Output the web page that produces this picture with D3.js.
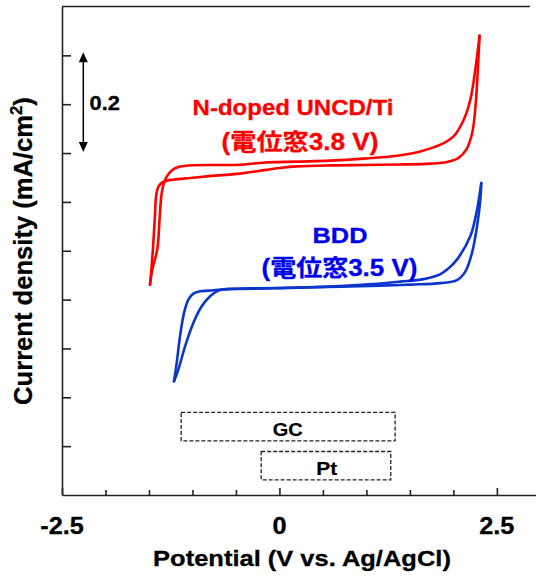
<!DOCTYPE html>
<html><head><meta charset="utf-8">
<script src="https://cdn.jsdelivr.net/npm/d3@7"></script>
<style>body{margin:0;background:#fff}svg{display:block}</style>
</head><body>
<svg id="c" width="536" height="576"></svg>
<script>
// ---------- data ----------
const xTicks = [-2.5, -2, -1.5, -1, -0.5, 0, 0.5, 1, 1.5, 2, 2.5];
const xMajor = [-2.5, 0, 2.5];
const xTickLabels = ["-2.5", "0", "2.5"];
const yTicks = [0.1, 0.2, 0.3, 0.4, 0.5, 0.6, 0.7, 0.8, 0.9];

// N-doped UNCD/Ti : [potential V, current (offset) mA/cm2]
const ncdForward = [[-1.488,0.4307],[-1.462,0.4614],[-1.405,0.5023],[-1.376,0.5704],[-1.356,0.6148],[-1.330,0.6373],[-1.294,0.6523],[-1.238,0.6645],[-1.162,0.6715],[-1.028,0.6748],[-0.740,0.6756],[-0.452,0.6762],[-0.188,0.6803],[0.192,0.6824],[0.583,0.6844],[0.963,0.6885],[1.354,0.6946],[1.619,0.7034],[1.852,0.7171],[1.999,0.7335],[2.114,0.7662],[2.195,0.8092],[2.252,0.8705],[2.301,0.9401]];
const ncdReverse = [[2.301,0.9401],[2.281,0.8705],[2.258,0.8036],[2.217,0.7417],[2.148,0.7069],[2.056,0.6895],[1.929,0.6817],[1.734,0.6783],[1.389,0.6766],[0.963,0.6756],[0.583,0.6748],[0.204,0.6727],[0.008,0.6695],[-0.222,0.6639],[-0.452,0.6578],[-0.835,0.6523],[-1.028,0.6490],[-1.220,0.6455],[-1.290,0.6436],[-1.350,0.6395],[-1.392,0.6310],[-1.416,0.6150],[-1.432,0.5704],[-1.455,0.5023],[-1.475,0.4558],[-1.488,0.4307]];
// BDD
const bddForward = [[-1.212,0.2328],[-1.181,0.2705],[-1.143,0.3249],[-1.097,0.3728],[-1.047,0.4000],[-0.990,0.4123],[-0.913,0.4170],[-0.759,0.4190],[-0.605,0.4215],[-0.337,0.4229],[0.008,0.4239],[0.698,0.4266],[1.159,0.4286],[1.504,0.4307],[1.852,0.4338],[2.041,0.4399],[2.137,0.4573],[2.214,0.4956],[2.272,0.5500],[2.310,0.6046],[2.321,0.6388]];
const bddReverse = [[2.321,0.6388],[2.272,0.5841],[2.194,0.5295],[2.041,0.4818],[1.941,0.4634],[1.852,0.4522],[1.657,0.4419],[1.389,0.4368],[1.078,0.4317],[0.698,0.4276],[0.008,0.4235],[-0.452,0.4219],[-0.605,0.4215],[-0.702,0.4184],[-0.797,0.4068],[-0.893,0.3863],[-0.990,0.3523],[-1.085,0.3044],[-1.162,0.2568],[-1.212,0.2328]];

// potential windows of other electrodes
const windowNames = ["GC", "Pt"];
const windowFrom = [-1.13, -0.21];
const windowTo = [1.33, 1.28];
const windowTop = [0.169, 0.089];
const windowBottom = [0.111, 0.031];

const scaleBar = [0.9, 0.7]; // 0.2 mA/cm2
const scaleBarX = -2.255;

// ---------- drawing ----------
const svg = d3.select("#c");
const FONT = "'Liberation Sans', Arial, 'Noto Sans CJK JP', sans-serif";
const x = d3.scaleLinear().domain([-2.5, 2.95]).range([62, 536]);
const y = d3.scaleLinear().domain([0, 1]).range([495, 6.5]);
const AX = "#222";

// frame top
svg.append("line").attr("x1", x(-2.5)).attr("x2", 530).attr("y1", y(1)).attr("y2", y(1))
  .attr("stroke", AX).attr("stroke-width", 1.6);

const gx = svg.append("g").attr("transform", `translate(0,${y(0)})`)
  .call(d3.axisBottom(x).tickValues(xTicks.filter(v => !xMajor.includes(v))).tickSize(-5).tickSizeOuter(0).tickFormat(""));
const gx2 = svg.append("g").attr("transform", `translate(0,${y(0)})`)
  .call(d3.axisBottom(x).tickValues(xMajor).tickSize(-7).tickSizeOuter(0).tickFormat(""));
gx2.select(".domain").remove();
const gy = svg.append("g").attr("transform", `translate(${x(-2.5)},0)`)
  .call(d3.axisLeft(y).tickValues(yTicks).tickSize(-9).tickSizeOuter(0).tickFormat(""));
[gx, gx2, gy].forEach(g => {
  g.selectAll("path,line").attr("stroke", AX).attr("stroke-width", 1.6);
});

function stretchedText(px, py, str, size, opts = {}) {
  const t = svg.append("text").attr("font-family", FONT).attr("font-weight", "bold")
    .attr("font-size", size).attr("fill", opts.fill || "#000")
    .attr("text-anchor", opts.anchor || "middle").text(str);
  if (opts.stroke) t.attr("stroke", opts.fill || "#000").attr("stroke-width", opts.stroke);
  let sx = opts.sx || 1;
  if (opts.width) { sx = opts.width / t.node().getComputedTextLength(); }
  t.attr("transform", `translate(${px},${py}) scale(${sx},1)`);
  return t;
}

// x tick labels
xMajor.forEach((v, i) => stretchedText(x(v), 534, xTickLabels[i], 23, { sx: 1.1, stroke: 0.3 }));
// x title
stretchedText(302, 566, "Potential (V vs. Ag/AgCl)", 22, { width: 298, stroke: 0.3 });

// y title
const yl = svg.append("text").attr("font-family", FONT).attr("font-weight", "bold")
  .attr("font-size", 26).attr("text-anchor", "middle").attr("stroke", "#000").attr("stroke-width", 0.3);
yl.append("tspan").text("Current density (mA/cm");
yl.append("tspan").attr("font-size", 17).attr("dy", -10).text("2");
yl.append("tspan").attr("dy", 10).text(")");
const ylen = yl.node().getComputedTextLength();
yl.attr("transform", `translate(32,251) rotate(-90) scale(${308 / ylen},1)`);

// scale bar arrow
const ax = x(scaleBarX);
const a0 = y(scaleBar[0]) - 3, a1 = y(scaleBar[1]) - 1;
svg.append("line").attr("x1", ax).attr("x2", ax).attr("y1", a0 + 8).attr("y2", a1 - 8)
  .attr("stroke", "#000").attr("stroke-width", 1.5);
svg.append("path").attr("d", `M${ax},${a0} L${ax - 4.5},${a0 + 10} L${ax + 4.5},${a0 + 10} Z`).attr("fill", "#000");
svg.append("path").attr("d", `M${ax},${a1} L${ax - 4.5},${a1 - 10} L${ax + 4.5},${a1 - 10} Z`).attr("fill", "#000");
stretchedText(89.5, 110, "0.2", 19.5, { anchor: "start", sx: 1.12, stroke: 0.3 });

// CV curves
const line = d3.line().x(d => x(d[0])).y(d => y(d[1])).curve(d3.curveCatmullRom.alpha(0.5));
const curves = [
  { data: ncdForward, color: "#ff0000" }, { data: ncdReverse, color: "#ff0000" },
  { data: bddForward, color: "#0a36cc" }, { data: bddReverse, color: "#0a36cc" }
];
curves.forEach(c => {
  svg.append("path").attr("d", line(c.data)).attr("fill", "none")
    .attr("stroke", c.color).attr("stroke-width", 2.6)
    .attr("stroke-linecap", "round").attr("stroke-linejoin", "round");
});

// labels
stretchedText(293, 115, "N-doped UNCD/Ti", 22.5, { fill: "#ff0000", width: 201, stroke: 0.3 });
stretchedText(300, 150, "(電位窓3.8 V)", 23, { fill: "#ff0000", width: 157, stroke: 0.3 });
stretchedText(340, 243, "BDD", 23, { fill: "#0000ee", width: 55, stroke: 0.3 });
stretchedText(339.5, 276, "(電位窓3.5 V)", 23, { fill: "#0000ee", width: 156, stroke: 0.3 });

// potential window boxes
windowNames.forEach((n, i) => {
  const x0 = x(windowFrom[i]), x1 = x(windowTo[i]);
  const y0 = y(windowTop[i]), y1 = y(windowBottom[i]);
  svg.append("rect").attr("x", x0).attr("y", y0).attr("width", x1 - x0).attr("height", y1 - y0)
    .attr("fill", "none").attr("stroke", "#222").attr("stroke-width", 1.3)
    .attr("stroke-dasharray", "4,2");
});
stretchedText(287.7, 436, "GC", 18, { width: 30, stroke: 0.2 });
stretchedText(326.7, 475, "Pt", 17.5, { width: 21, stroke: 0.2 });
</script>
</body></html>
